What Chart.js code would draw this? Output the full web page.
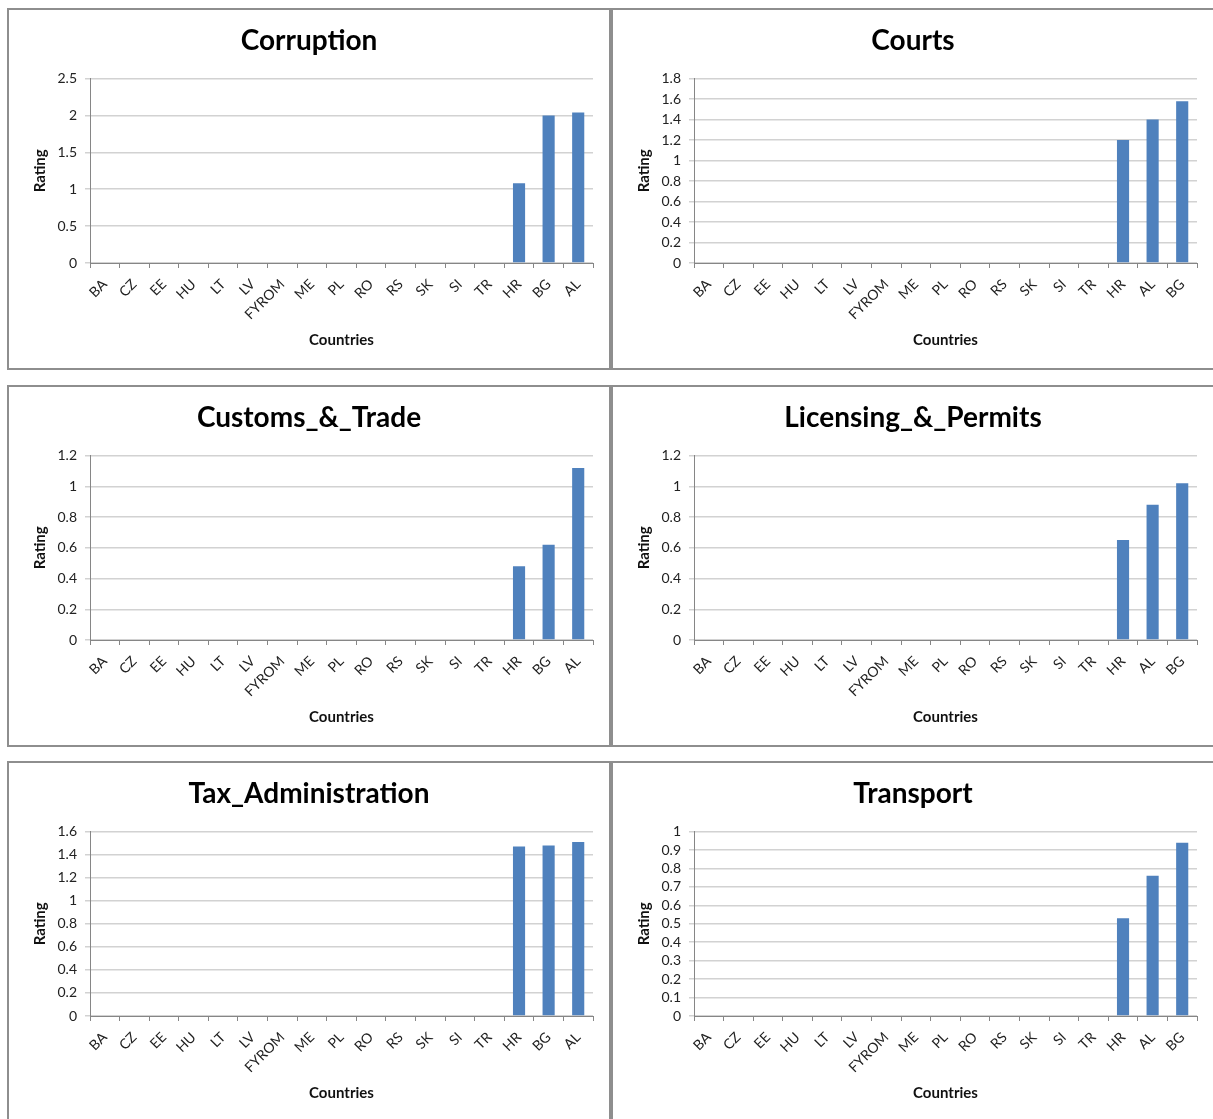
<!DOCTYPE html>
<html>
<head>
<meta charset="utf-8">
<title>Ratings by country</title>
<script src="https://cdn.jsdelivr.net/npm/chart.js@4.4.1/dist/chart.umd.min.js"></script>
<style>
    body {
        margin: 0;
        background: #fff;
        width: 1213px;
        height: 1119px;
        overflow: hidden;
        position: relative;
    }
    .panel {
        position: absolute;
        width: 600px;
        height: 358px;
        border: 2px solid #8e8e8e;
        background: #fff;
    }
    .panel canvas {
        display: block;
    }
</style>
</head>
<body>
<div class="panel" style="left:7px; top:8px;"><canvas id="corruptionChart" width="600" height="358"></canvas></div>
<div class="panel" style="left:611px; top:8px;"><canvas id="courtsChart" width="600" height="358"></canvas></div>
<div class="panel" style="left:7px; top:385px;"><canvas id="customsChart" width="600" height="358"></canvas></div>
<div class="panel" style="left:611px; top:385px;"><canvas id="licensingChart" width="600" height="358"></canvas></div>
<div class="panel" style="left:7px; top:761px;"><canvas id="taxChart" width="600" height="358"></canvas></div>
<div class="panel" style="left:611px; top:761px;"><canvas id="transportChart" width="600" height="358"></canvas></div>

<script>
// категории: порядок стран различается в конце (HR BG AL / HR AL BG)
const countriesBGAL = ['BA', 'CZ', 'EE', 'HU', 'LT', 'LV', 'FYROM', 'ME', 'PL', 'RO', 'RS', 'SK', 'SI', 'TR', 'HR', 'BG', 'AL'];
const countriesALBG = ['BA', 'CZ', 'EE', 'HU', 'LT', 'LV', 'FYROM', 'ME', 'PL', 'RO', 'RS', 'SK', 'SI', 'TR', 'HR', 'AL', 'BG'];

// значения рейтинга
const corruption = [0, 0, 0, 0, 0, 0, 0, 0, 0, 0, 0, 0, 0, 0, 1.08, 2.0, 2.04];
const courts = [0, 0, 0, 0, 0, 0, 0, 0, 0, 0, 0, 0, 0, 0, 1.2, 1.4, 1.58];
const customsTrade = [0, 0, 0, 0, 0, 0, 0, 0, 0, 0, 0, 0, 0, 0, 0.48, 0.62, 1.12];
const licensingPermits = [0, 0, 0, 0, 0, 0, 0, 0, 0, 0, 0, 0, 0, 0, 0.65, 0.88, 1.02];
const taxAdministration = [0, 0, 0, 0, 0, 0, 0, 0, 0, 0, 0, 0, 0, 0, 1.47, 1.48, 1.51];
const transport = [0, 0, 0, 0, 0, 0, 0, 0, 0, 0, 0, 0, 0, 0, 0.53, 0.76, 0.94];

// шкала Y: максимум и шаг для каждого графика
const yMax = [2.5, 1.8, 1.2, 1.2, 1.6, 1];
const yStep = [0.5, 0.2, 0.2, 0.2, 0.2, 0.1];

const FONT = 'Lato, "Open Sans", sans-serif';
const AXIS_COLOR = '#868686';
const GRID_COLOR = '#d2d2d2';

function renderPanel(canvasId, title, labels, data, max, step) {
    const ctx = document.getElementById(canvasId).getContext('2d');

    new Chart(ctx, {
        type: 'bar',
        data: {
            labels: labels,
            datasets: [{
                label: 'Rating',
                data: data,
                backgroundColor: '#4f81bd',
                borderWidth: 0,
                categoryPercentage: 1,
                barPercentage: 0.41
            }]
        },
        options: {
            responsive: false,
            animation: false,
            layout: {
                padding: { top: 14, right: 0, bottom: 0, left: 0 }
            },
            scales: {
                x: {
                    afterFit: scale => { scale.height = 105; },
                    grid: {
                        offset: true,
                        drawOnChartArea: false,
                        drawTicks: true,
                        tickLength: 5,
                        color: AXIS_COLOR
                    },
                    border: { display: true, color: AXIS_COLOR },
                    ticks: {
                        autoSkip: false,
                        minRotation: 45,
                        maxRotation: 45,
                        padding: 8,
                        color: '#222',
                        font: { family: FONT, size: 14 }
                    },
                    title: {
                        display: true,
                        text: 'Countries',
                        color: '#111',
                        padding: { top: 0, bottom: 19 },
                        font: { family: FONT, size: 15, weight: 'bold' }
                    }
                },
                y: {
                    min: 0,
                    max: max,
                    afterFit: scale => { scale.width = 81; },
                    grid: {
                        color: GRID_COLOR,
                        lineWidth: 1.5,
                        drawTicks: true,
                        tickLength: 5
                    },
                    border: { display: true, color: AXIS_COLOR },
                    ticks: {
                        stepSize: step,
                        autoSkip: false,
                        padding: 8,
                        color: '#222',
                        font: { family: FONT, size: 14 },
                        callback: value => String(+value.toFixed(2))
                    },
                    title: {
                        display: true,
                        text: 'Rating',
                        color: '#111',
                        padding: { top: 22, bottom: 0 },
                        font: { family: FONT, size: 15, weight: 'bold' }
                    }
                },
                // пустая правая ось, чтобы заголовок был по центру панели
                yRight: {
                    position: 'right',
                    afterFit: scale => { scale.width = 16; },
                    grid: { display: false },
                    border: { display: false },
                    ticks: { display: false }
                }
            },
            plugins: {
                title: {
                    display: true,
                    text: title,
                    color: '#000',
                    padding: { top: 0, bottom: 21 },
                    font: { family: FONT, size: 28, weight: 'bold' }
                },
                legend: { display: false },
                tooltip: { enabled: false }
            }
        }
    });
}

renderPanel('corruptionChart', 'Corruption', countriesBGAL, corruption, yMax[0], yStep[0]);
renderPanel('courtsChart', 'Courts', countriesALBG, courts, yMax[1], yStep[1]);
renderPanel('customsChart', 'Customs_&_Trade', countriesBGAL, customsTrade, yMax[2], yStep[2]);
renderPanel('licensingChart', 'Licensing_&_Permits', countriesALBG, licensingPermits, yMax[3], yStep[3]);
renderPanel('taxChart', 'Tax_Administration', countriesBGAL, taxAdministration, yMax[4], yStep[4]);
renderPanel('transportChart', 'Transport', countriesALBG, transport, yMax[5], yStep[5]);
</script>
</body>
</html>
